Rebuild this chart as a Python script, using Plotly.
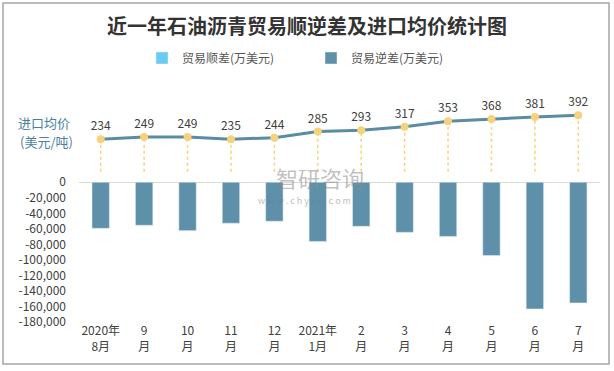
import plotly.graph_objects as go

# ---------------- data ----------------
categories = ["2020年<br>8月", "9<br>月", "10<br>月", "11<br>月", "12<br>月", "2021年<br>1月",
              "2<br>月", "3<br>月", "4<br>月", "5<br>月", "6<br>月", "7<br>月"]
surplus = [None] * 12                      # 贸易顺差(万美元)
deficit = [-59300, -55400, -62300, -52800, -50200, -76200,
           -56700, -64500, -69700, -94400, -163200, -155400]   # 贸易逆差(万美元)
price = [234, 249, 249, 235, 244, 285, 293, 317, 353, 368, 381, 392]  # 进口均价(美元/吨)
ytick_vals = [0, -20000, -40000, -60000, -80000, -100000, -120000, -140000, -160000, -180000]
ytick_text = ["{:,}".format(v) for v in ytick_vals]

# ---------------- style ----------------
W, H = 614, 371
ML, MR, MT, MB = 79, 14, 100, 49
PW, PH = W - ML - MR, H - MT - MB
FONT = "Noto Sans CJK SC"
BAR_COLOR = "#5e91a9"
POS_COLOR = "#6ccbf2"
LINE_COLOR = "#5a8ca6"
DOT_COLOR = "#f6d27a"
DROP_BASE = 20


def px_x(p):
    return (p - ML) / PW


def px_y(p):
    return (H - MB - p) / PH


fig = go.Figure()

fig.add_trace(go.Bar(x=categories, y=surplus, name="贸易顺差(万美元)",
                     marker_color=POS_COLOR, width=0.4))
fig.add_trace(go.Bar(x=categories, y=deficit, name="贸易逆差(万美元)",
                     marker_color=BAR_COLOR, width=0.4))

# dotted drop lines from each price point
for c, v in zip(categories, price):
    fig.add_trace(go.Scatter(x=[c, c], y=[DROP_BASE, v], yaxis="y2", mode="lines",
                             line=dict(color=DOT_COLOR, width=1.5, dash="dot"),
                             showlegend=False, hoverinfo="skip"))

fig.add_trace(go.Scatter(x=categories, y=price, yaxis="y2", mode="lines+markers+text",
                         text=[str(v) for v in price], textposition="top center",
                         textfont=dict(size=12, color="#404040", family=FONT),
                         line=dict(color=LINE_COLOR, width=3),
                         marker=dict(color=DOT_COLOR, size=8),
                         cliponaxis=False,
                         showlegend=False, name="进口均价"))

fig.update_layout(
    width=W, height=H,
    margin=dict(l=ML, r=MR, t=MT, b=MB, autoexpand=False),
    paper_bgcolor="white", plot_bgcolor="white",
    barmode="overlay",
    font=dict(family=FONT, size=12, color="#404040"),
    title=dict(text="<b>近一年石油沥青贸易顺逆差及进口均价统计图</b>",
               x=0.5, xanchor="center", y=1 - 27 / H, yanchor="middle",
               font=dict(size=20, color="#333333", family=FONT)),
    legend=dict(orientation="h", x=px_x(142), xanchor="left", y=px_y(58), yanchor="middle",
                entrywidth=124, entrywidthmode="pixels",
                font=dict(size=12, color="#555555"), bgcolor="rgba(0,0,0,0)"),
    xaxis=dict(type="category", range=[-0.5, len(categories) - 0.5],
               showgrid=False, showline=False, ticks="", automargin=False,
               tickfont=dict(size=12, color="#404040")),
    yaxis=dict(range=[-180000, 106000], tickvals=ytick_vals, ticktext=ytick_text,
               showgrid=False, zeroline=True, zerolinecolor="#d9d9d9", zerolinewidth=1,
               showline=False, ticks="", ticklabelstandoff=12, automargin=False,
               tickfont=dict(size=12, color="#404040")),
    yaxis2=dict(range=[-968, 492.5], overlaying="y", side="right", visible=False),
    showlegend=True,
)

# axis caption for the price line
fig.add_annotation(text="进口均价", xref="paper", yref="paper", x=px_x(44), y=px_y(122),
                   xanchor="center", yanchor="middle",
                   showarrow=False, font=dict(size=13, color="#4a7fa0"))
fig.add_annotation(text="(美元/吨)", xref="paper", yref="paper", x=px_x(46), y=px_y(141),
                   xanchor="center", yanchor="middle",
                   showarrow=False, font=dict(size=13, color="#4a7fa0"))

# watermark
fig.add_annotation(text="智研咨询", xref="paper", yref="paper", x=px_x(320), y=px_y(177),
                   xanchor="center", yanchor="middle",
                   showarrow=False, font=dict(size=22, color="rgba(140,140,140,0.55)"))
fig.add_annotation(text="w w w . c h y x x . c o m", xref="paper", yref="paper",
                   x=px_x(304), y=px_y(200), xanchor="center", yanchor="middle",
                   showarrow=False, font=dict(size=9, color="rgba(120,120,120,0.5)"))

# outer border
fig.add_shape(type="rect", xref="paper", yref="paper",
              x0=px_x(3), x1=px_x(609), y0=px_y(364), y1=px_y(3),
              line=dict(color="#a6a6a6", width=1.5), fillcolor="rgba(0,0,0,0)", layer="below")

fig.write_html("out.html", config={"displayModeBar": False},
               post_script="document.body.style.margin='0';")
